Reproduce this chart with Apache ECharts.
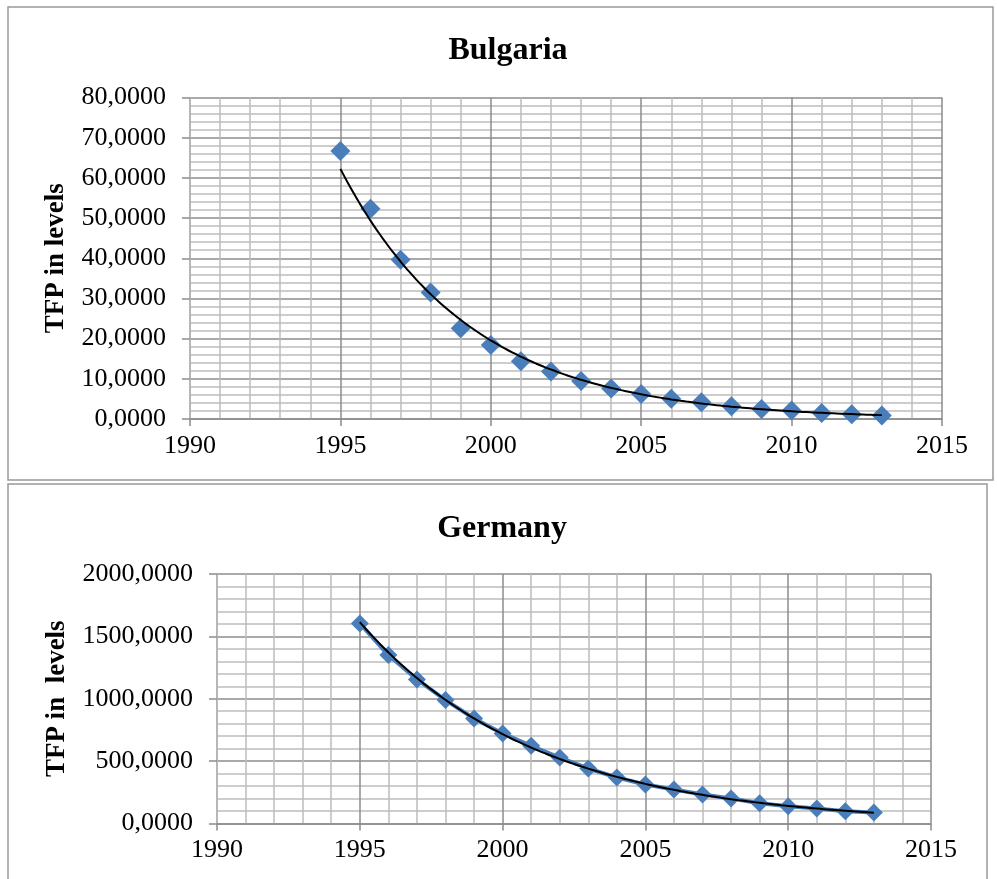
<!DOCTYPE html>
<html>
<head>
<meta charset="utf-8">
<script src="https://cdn.jsdelivr.net/npm/echarts@6/dist/echarts.min.js"></script>
<style>
  html, body { margin: 0; padding: 0; background: #fff; }
  #main { width: 997px; height: 879px; }
</style>
</head>
<body>
<div id="main"></div>
<script>
// years shared by both panels
var years = [1995, 1996, 1997, 1998, 1999, 2000, 2001, 2002, 2003, 2004,
             2005, 2006, 2007, 2008, 2009, 2010, 2011, 2012, 2013];

// TFP in levels
var bulgaria = [66.7, 52.3, 39.6, 31.5, 22.6, 18.4, 14.4, 11.8, 9.45, 7.6,
                6.2, 5.05, 4.15, 3.2, 2.5, 2.1, 1.5, 1.2, 0.9];
var germany = [1604, 1350, 1155, 989, 842, 722, 623, 529, 441, 369,
               313, 273, 233, 200, 163, 139, 120, 99, 88];

var titles = ['Bulgaria', 'Germany'];
var axisNames = ['TFP in levels', 'TFP in  levels'];

var serif = 'Liberation Serif';
var blue = '#4a7ebb';
var majorGrid = '#8c8c8c';
var minorGrid = '#bdbdbd';

// exponential trendline like excel: least squares on ln(y)
function expTrend(xs, ys) {
	var n = xs.length, sx = 0, sy = 0, sxx = 0, sxy = 0;
	for (var i = 0; i < n; i++) {
		var t = xs[i] - xs[0], l = Math.log(ys[i]);
		sx += t; sy += l; sxx += t * t; sxy += t * l;
	}
	var b = (n * sxy - sx * sy) / (n * sxx - sx * sx);
	var a = (sy - b * sx) / n;
	var out = [];
	for (var x = xs[0]; x <= xs[n - 1] + 1e-9; x += 0.25) {
		out.push([x, Math.exp(a + b * (x - xs[0]))]);
	}
	return out;
}

function pairs(xs, ys) {
	var out = [];
	for (var i = 0; i < xs.length; i++) out.push([xs[i], ys[i]]);
	return out;
}

function fmt(v) {
	return v.toFixed(4).replace('.', ',');
}

function xAxisCfg(idx) {
	return {
		type: 'value', gridIndex: idx, min: 1990, max: 2015, interval: 5,
		axisLine: { lineStyle: { color: majorGrid, width: 1.5 } },
		axisTick: { show: true, length: 7, lineStyle: { color: majorGrid, width: 1.5 } },
		axisLabel: { color: '#000', fontFamily: serif, fontSize: 26, margin: 14,
		             formatter: function (v) { return String(v); } },
		splitLine: { show: true, lineStyle: { color: majorGrid, width: 1.5 } },
		minorTick: { show: false, splitNumber: 5 },
		minorSplitLine: { show: true, lineStyle: { color: minorGrid, width: 1.5 } }
	};
}

function yAxisCfg(idx, max, interval, gap) {
	return {
		type: 'value', gridIndex: idx, min: 0, max: max, interval: interval,
		name: axisNames[idx], nameLocation: 'middle', nameRotate: 90, nameGap: gap,
		nameTextStyle: { color: '#000', fontFamily: serif, fontSize: 27, fontWeight: 'bold' },
		axisLine: { show: true, lineStyle: { color: minorGrid, width: 1.5 } },
		axisTick: { show: true, length: 8, lineStyle: { color: majorGrid, width: 1.5 } },
		axisLabel: { color: '#000', fontFamily: serif, fontSize: 26, margin: 24, formatter: fmt },
		splitLine: { show: true, lineStyle: { color: majorGrid, width: 1.5 } },
		minorTick: { show: false, splitNumber: 5 },
		minorSplitLine: { show: true, lineStyle: { color: minorGrid, width: 1.5 } }
	};
}

var myChart = echarts.init(document.getElementById('main'), null, { renderer: 'canvas' });

var option = {
	backgroundColor: '#fff',
	animation: false,
	title: [
		{ text: titles[0], left: 503, top: 30, textAlign: 'center',
		  textStyle: { fontFamily: serif, fontSize: 32, fontWeight: 'bold', color: '#000' } },
		{ text: titles[1], left: 497, top: 508, textAlign: 'center',
		  textStyle: { fontFamily: serif, fontSize: 32, fontWeight: 'bold', color: '#000' } }
	],
	graphic: [
		{ type: 'rect', shape: { x: 8, y: 7, width: 985, height: 473 },
		  style: { fill: 'none', stroke: '#999', lineWidth: 1.5 }, silent: true },
		{ type: 'rect', shape: { x: 8, y: 484, width: 979, height: 420 },
		  style: { fill: 'none', stroke: '#999', lineWidth: 1.5 }, silent: true }
	],
	grid: [
		{ left: 190, top: 97.5, width: 752, height: 321.5 },
		{ left: 217, top: 574, width: 714, height: 249.5 }
	],
	xAxis: [xAxisCfg(0), xAxisCfg(1)],
	yAxis: [yAxisCfg(0, 80, 10, 120), yAxisCfg(1, 2000, 500, 146)],
	series: [
		{
			name: 'Bulgaria', type: 'scatter', xAxisIndex: 0, yAxisIndex: 0,
			symbol: 'diamond', symbolSize: 20, itemStyle: { color: blue, opacity: 1 },
			data: pairs(years, bulgaria), z: 3
		},
		{
			name: 'Bulgaria trend', type: 'line', xAxisIndex: 0, yAxisIndex: 0,
			showSymbol: false, smooth: true, lineStyle: { color: '#000', width: 2 },
			data: expTrend(years, bulgaria), z: 4
		},
		{
			name: 'Germany', type: 'line', xAxisIndex: 1, yAxisIndex: 1,
			symbol: 'diamond', symbolSize: 18, showAllSymbol: true,
			itemStyle: { color: blue, opacity: 1 }, lineStyle: { color: blue, width: 4 },
			data: pairs(years, germany), z: 3
		},
		{
			name: 'Germany trend', type: 'line', xAxisIndex: 1, yAxisIndex: 1,
			showSymbol: false, smooth: true, lineStyle: { color: '#000', width: 2 },
			data: expTrend(years, germany), z: 4
		}
	]
};

myChart.setOption(option);
</script>
</body>
</html>
